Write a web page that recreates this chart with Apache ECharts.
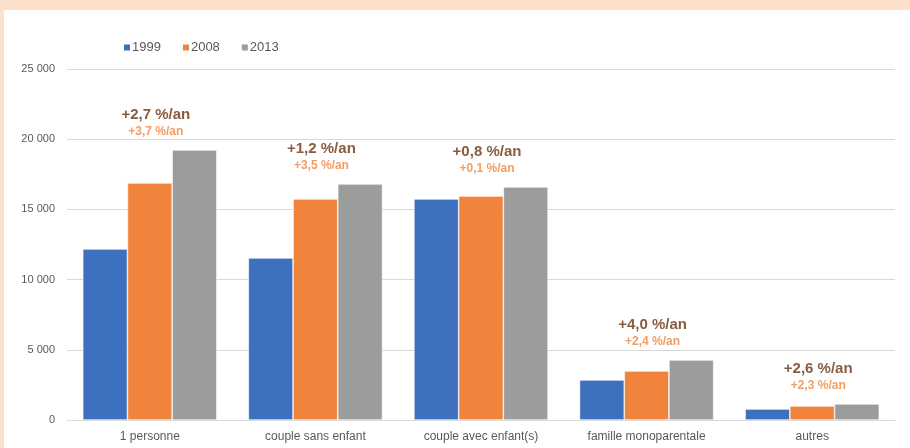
<!DOCTYPE html>
<html>
<head>
<meta charset="utf-8">
<script src="https://cdn.jsdelivr.net/npm/echarts@6/dist/echarts.min.js"></script>
<style>
  html, body { margin: 0; padding: 0; background: #fde0ca; width: 910px; height: 448px; overflow: hidden; }
  #chart { position: absolute; left: 4px; top: 10px; width: 906px; height: 438px; background: #ffffff; }
</style>
</head>
<body>
<div id="chart"></div>
<script>
const categories = ["1 personne", "couple sans enfant", "couple avec enfant(s)", "famille monoparentale", "autres"];
const years = ["1999", "2008", "2013"];
const values1999 = [12180, 11540, 15740, 2850, 780];
const values2008 = [16880, 15740, 15950, 3490, 1000];
const values2013 = [19230, 16810, 16600, 4270, 1140];
const growthMain = ["+2,7 %/an", "+1,2 %/an", "+0,8 %/an", "+4,0 %/an", "+2,6 %/an"];
const growthSub = ["+3,7 %/an", "+3,5 %/an", "+0,1 %/an", "+2,4 %/an", "+2,3 %/an"];

const colors = ["#3e71bd", "#f0843c", "#9b9d9d"];
const font = "'Liberation Sans Narrow', 'Liberation Sans', sans-serif";

const chart = echarts.init(document.getElementById("chart"));

const barSeries = [values1999, values2008, values2013].map((vals, i) => ({
  name: years[i],
  type: "bar",
  data: vals,
  barWidth: "27%",
  barGap: "0%",
  itemStyle: { color: colors[i], borderColor: "#ffffff", borderWidth: 0.6 },
  emphasis: { disabled: true },
}));

// growth annotations sit above the tallest bar of each group
const annotData = categories.map((c, i) => ({
  value: Math.max(values1999[i], values2008[i], values2013[i]),
  label: {
    formatter: "{a|" + growthMain[i] + "}\n{b|" + growthSub[i] + "}",
  },
}));

chart.setOption({
  animation: false,
  textStyle: { fontFamily: font },
  legend: {
    left: 113,
    top: 26,
    itemWidth: 8,
    itemHeight: 8,
    itemGap: 20,
    icon: "rect",
    data: years,
    textStyle: { color: "#595959", fontSize: 13, fontFamily: font, padding: [0, 0, 0, -4] },
  },
  grid: { left: 63, right: 15, top: 59, bottom: 28 },
  xAxis: {
    type: "category",
    data: categories,
    axisLine: { lineStyle: { color: "#d9d9d9", width: 1 } },
    axisTick: { show: false },
    axisLabel: { color: "#595959", fontSize: 12, margin: 11, fontFamily: font },
  },
  yAxis: {
    type: "value",
    min: 0,
    max: 25000,
    interval: 5000,
    axisLine: { show: false },
    axisTick: { show: false },
    splitLine: { lineStyle: { color: "#d9d9d9", width: 1 } },
    axisLabel: {
      color: "#595959",
      fontSize: 11,
      margin: 12,
      fontFamily: font,
      formatter: (v) => (v === 0 ? "0" : String(v).replace(/(\d)(?=(\d{3})+$)/g, "$1 ")),
    },
  },
  series: [
    ...barSeries,
    {
      name: "annot",
      type: "scatter",
      data: annotData,
      symbolSize: 0,
      silent: true,
      z: 10,
      label: {
        show: true,
        position: "top",
        distance: 11,
        offset: [6, 0],
        align: "center",
        rich: {
          a: { color: "#6b3210", fontSize: 15, fontWeight: "bold", fontFamily: font, lineHeight: 19 },
          b: { color: "#f0843c", fontSize: 12, fontWeight: "bold", fontFamily: font, lineHeight: 15 },
        },
      },
    },
  ],
});
</script>
</body>
</html>
